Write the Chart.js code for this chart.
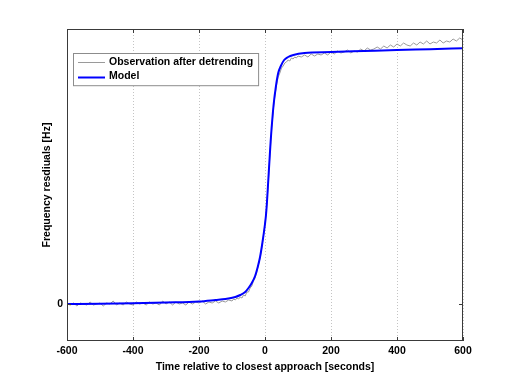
<!DOCTYPE html>
<html>
<head>
<meta charset="utf-8">
<script src="https://cdn.jsdelivr.net/npm/chart.js@4/dist/chart.umd.min.js"></script>
<style>
  html, body { margin: 0; padding: 0; background: #fff; }
  #wrap { width: 512px; height: 384px; }
</style>
</head>
<body>
<div id="wrap"><canvas id="freqChart" width="512" height="384"></canvas></div>
<script>
// ===== Data =====
const xTicks = [-600, -400, -200, 0, 200, 400, 600];
const yTicks = [0];

// Model curve (blue)
const modelTime = [-600, -500, -400, -300, -200, -150, -120, -90, -75, -60, -50, -40, -30, -22, -15, -8,
  0, 3, 6, 10, 14, 17, 20, 24, 28, 32, 36, 40, 48, 58, 70, 86, 120, 200, 300, 400, 500, 600];
const modelValue = [0.00, 0.003, 0.008, 0.015, 0.025, 0.04, 0.05, 0.07, 0.09, 0.12, 0.16, 0.21, 0.28, 0.37, 0.47, 0.61,
  0.80, 0.89, 1.02, 1.24, 1.46, 1.62, 1.76, 1.92, 2.05, 2.15, 2.24, 2.31, 2.38, 2.44, 2.47, 2.49, 2.51, 2.52, 2.53, 2.54, 2.548, 2.557];

// Observation after detrending (grey, noisy)
const obsTime = [
  -600, -590, -580, -570, -560, -550, -540, -530, -520, -510, -500, -490, -480, -470, -460, -450, -440,
  -430, -420, -410, -400, -390, -380, -370, -360, -350, -340, -330, -320, -310, -300, -290, -280, -270,
  -260, -250, -240, -230, -220, -210, -200, -190, -180, -170, -160, -150, -140, -130, -120, -110, -100,
  -95, -90, -85, -80, -75, -70, -65, -60, -55, -50, -45, -40, -35, -30, -25, -20, -15, -10, -5,
  0, 5, 10, 15, 20, 25, 30, 35, 40, 45, 50, 55, 60, 65, 70, 75, 80, 85, 90, 95, 100,
  110, 120, 130, 140, 150, 160, 170, 180, 190, 200, 210, 220, 230, 240, 250, 260, 270, 280, 290, 300,
  310, 320, 330, 340, 350, 360, 370, 380, 390, 400, 410, 420, 430, 440, 450, 460, 470, 480, 490, 500,
  510, 520, 530, 540, 550, 560, 570, 580, 590, 600];
const obsValue = [
  0.00, -0.01, 0.01, -0.02, 0.01, 0.00, -0.01, 0.02, -0.01, 0.00, 0.01, -0.02, 0.01, 0.00, 0.03, -0.01, 0.01,
  -0.01, 0.02, 0.00, -0.01, 0.02, 0.00, 0.01, -0.01, 0.02, 0.00, 0.01, -0.01, 0.03, 0.00, 0.02, -0.01, 0.02,
  0.00, 0.01, -0.01, 0.02, 0.00, 0.02, 0.01, 0.03, 0.00, 0.02, 0.01, 0.03, 0.01, 0.03, 0.02, 0.04, 0.03,
  0.05, 0.04, 0.06, 0.05, 0.07, 0.06, 0.09, 0.08, 0.12, 0.12, 0.16, 0.18, 0.23, 0.26, 0.32, 0.39, 0.46, 0.56, 0.67,
  0.80, 0.97, 1.22, 1.50, 1.74, 1.94, 2.08, 2.19, 2.27, 2.31, 2.36, 2.38, 2.41, 2.42, 2.44, 2.43, 2.46, 2.45, 2.47, 2.46, 2.48,
  2.47, 2.49, 2.47, 2.50, 2.48, 2.50, 2.49, 2.51, 2.49, 2.52, 2.50, 2.53, 2.51, 2.52, 2.54, 2.51, 2.53, 2.52, 2.55, 2.53,
  2.56, 2.54, 2.55, 2.57, 2.55, 2.58, 2.56, 2.59, 2.57, 2.60, 2.58, 2.61, 2.59, 2.58, 2.61, 2.59, 2.62, 2.60, 2.63, 2.60,
  2.62, 2.61, 2.64, 2.61, 2.63, 2.62, 2.65, 2.63, 2.66, 2.64];

const FONT = '"Liberation Sans", Arial, Helvetica, sans-serif';
const FS = 10.5;

const toPoints = (xs, ys) => xs.map((x, i) => ({ x, y: ys[i] }));

// Box around the axes plus MATLAB-style inward tick marks
const framePlugin = {
  id: 'frame',
  afterDatasetsDraw(chart) {
    const { ctx, chartArea: a, scales } = chart;
    const tl = 4;
    ctx.save();
    ctx.strokeStyle = '#3a3a3a';
    ctx.lineWidth = 1;
    ctx.strokeRect(a.left + 0.5, a.top + 0.5, a.right - a.left - 1, a.bottom - a.top - 1);
    ctx.beginPath();
    scales.x.ticks.forEach(t => {
      const px = Math.round(scales.x.getPixelForValue(t.value)) + 0.5;
      ctx.moveTo(px, a.bottom); ctx.lineTo(px, a.bottom - tl);
      ctx.moveTo(px, a.top); ctx.lineTo(px, a.top + tl);
    });
    scales.y.ticks.forEach(t => {
      const py = Math.round(scales.y.getPixelForValue(t.value)) + 0.5;
      ctx.moveTo(a.left, py); ctx.lineTo(a.left + tl, py);
      ctx.moveTo(a.right, py); ctx.lineTo(a.right - tl, py);
    });
    ctx.stroke();
    ctx.restore();
  }
};

// Legend box in the upper left corner of the axes
const legendPlugin = {
  id: 'boxLegend',
  afterDraw(chart) {
    const { ctx, chartArea: a } = chart;
    const sets = chart.data.datasets;
    ctx.save();
    ctx.font = 'bold ' + FS + 'px ' + FONT;
    const textW = Math.max(...sets.map(d => ctx.measureText(d.label).width));
    const x0 = a.left + 6, y0 = a.top + 24;
    const rowH = 14.6;
    const w = 36 + textW + 5, h = 3 + rowH * sets.length;
    ctx.fillStyle = '#fff';
    ctx.fillRect(x0, y0, w, h);
    ctx.strokeStyle = '#8c8c8c';
    ctx.lineWidth = 1;
    ctx.strokeRect(x0 + 0.5, y0 + 0.5, w, h);
    sets.forEach((d, i) => {
      const cy = y0 + 9 + i * rowH;
      ctx.strokeStyle = d.borderColor;
      ctx.lineWidth = d.borderWidth;
      ctx.beginPath();
      ctx.moveTo(x0 + 5, Math.round(cy) + 0.5);
      ctx.lineTo(x0 + 32, Math.round(cy) + 0.5);
      ctx.stroke();
      ctx.fillStyle = '#000';
      ctx.textBaseline = 'middle';
      ctx.fillText(d.label, x0 + 36, cy);
    });
    ctx.restore();
  }
};

const tickFont = { family: FONT, size: FS, weight: 'bold' };

new Chart(document.getElementById('freqChart').getContext('2d'), {
  type: 'line',
  data: {
    datasets: [{
      label: 'Observation after detrending',
      data: toPoints(obsTime, obsValue),
      borderColor: '#9a9a9a',
      borderWidth: 1,
      pointRadius: 0,
      tension: 0,
      order: 1
    }, {
      label: 'Model',
      data: toPoints(modelTime, modelValue),
      borderColor: '#0000ff',
      borderWidth: 2,
      pointRadius: 0,
      cubicInterpolationMode: 'monotone',
      order: 0
    }]
  },
  options: {
    responsive: false, animation: false, devicePixelRatio: 1,
    layout: { padding: { left: 0, top: 29, right: 49, bottom: 0 } },
    plugins: { legend: { display: false }, tooltip: { enabled: false } },
    scales: {
      x: {
        type: 'linear', min: -600, max: 600,
        afterBuildTicks: s => { s.ticks = xTicks.map(v => ({ value: v })); },
        afterFit: s => { s.height = 43; },
        grid: { color: '#c4c4c4', lineWidth: 1, drawTicks: false },
        border: { display: false, dash: [1, 2] },
        ticks: { color: '#000', padding: 4, maxRotation: 0, font: tickFont },
        title: {
          display: true, text: 'Time relative to closest approach [seconds]', color: '#000',
          font: tickFont, padding: { top: 0, bottom: 11 }
        }
      },
      y: {
        type: 'linear', min: -0.37, max: 2.75,
        afterBuildTicks: s => { s.ticks = yTicks.map(v => ({ value: v })); },
        afterFit: s => { s.width = 67; },
        grid: { display: false, drawTicks: false },
        border: { display: false },
        ticks: { color: '#000', padding: 4, font: tickFont },
        title: {
          display: true, text: 'Frequency resdiuals [Hz]', color: '#000',
          font: tickFont, padding: { top: 41, bottom: 0 }
        }
      }
    }
  },
  plugins: [framePlugin, legendPlugin]
});
</script>
</body>
</html>
